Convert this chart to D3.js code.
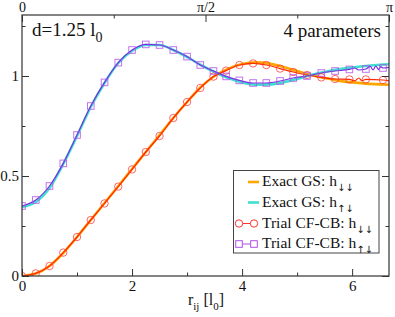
<!DOCTYPE html>
<html>
<head>
<meta charset="utf-8">
<script src="https://d3js.org/d3.v7.min.js"></script>
<style>
  body { margin: 0; background: #fff; }
  svg text { font-family: "Liberation Serif", "DejaVu Serif", serif; fill: #111; }
  .arrow { font-family: "DejaVu Sans", sans-serif; }
</style>
</head>
<body>
<svg id="chart" width="395" height="317"></svg>
<script>
// exact ground state curves
var rExact = [0, 0.25, 0.5, 0.75, 1.0, 1.25, 1.5, 1.75, 2.0, 2.25, 2.5, 2.75, 3.0, 3.25,
    3.5, 3.75, 4.0, 4.25, 4.5, 4.75, 5.0, 5.25, 5.5, 5.75, 6.0, 6.25, 6.5, 6.75];
var exactDD = [0, 0.012, 0.05, 0.115, 0.195, 0.28, 0.365, 0.45, 0.535, 0.62, 0.705, 0.79, 0.87, 0.945,
    1.0, 1.037, 1.06, 1.068, 1.062, 1.045, 1.025, 1.005, 0.99, 0.977, 0.968, 0.962, 0.958, 0.955];
var exactUD = [0.345, 0.37, 0.44, 0.56, 0.70, 0.845, 0.965, 1.065, 1.125, 1.155, 1.155, 1.13, 1.095, 1.055,
    1.02, 0.99, 0.968, 0.957, 0.958, 0.968, 0.985, 1.005, 1.02, 1.033, 1.043, 1.05, 1.056, 1.06];

// trial CF-CB, marker positions
var rTrial = [0, 0.25, 0.5, 0.75, 1.0, 1.25, 1.5, 1.75, 2.0, 2.25, 2.5, 2.75, 3.0, 3.24,
    3.48, 3.71, 3.95, 4.2, 4.44, 4.69, 4.93, 5.18, 5.44, 5.69, 5.95, 6.25, 6.56];
var trialDD = [0, 0.013, 0.05, 0.117, 0.195, 0.28, 0.363, 0.447, 0.533, 0.62, 0.70, 0.79, 0.87, 0.94,
    0.997, 1.027, 1.055, 1.063, 1.055, 1.037, 1.02, 1.005, 0.993, 0.985, 0.983, 0.983, 0.98];
var trialUD = [0.35, 0.38, 0.45, 0.563, 0.705, 0.85, 0.968, 1.067, 1.13, 1.158, 1.155, 1.13, 1.097, 1.055,
    1.025, 0.998, 0.978, 0.965, 0.965, 0.975, 0.99, 1.0, 1.015, 1.025, 1.033, 1.035, 1.04];

// noisy tail of the trial lines between markers
var tailDDr = [6.05, 6.12, 6.18, 6.67];
var tailDD = [0.976, 0.99, 0.977, 0.976];
var tailUDr = [6.05, 6.12, 6.33, 6.38, 6.43, 6.48, 6.52, 6.67];
var tailUD = [1.04, 1.03, 1.048, 1.03, 1.05, 1.032, 1.047, 1.043];

var xTicks = [0, 2, 4, 6];
var xMinor = [1, 3, 5];
var yTicks = [0, 0.5, 1];
var yMinor = [0.25, 0.75, 1.25];
var topTicks = [0, Math.PI / 2, Math.PI];
var topLabels = ["0", "\u03c0/2", "\u03c0"];
var topMinor = [Math.PI / 4, 3 * Math.PI / 4];

var legendItems = [
    {name: "Exact GS: h", sub: "\u2193\u2193", kind: "line", color: "#ffa500"},
    {name: "Exact GS: h", sub: "\u2191\u2193", kind: "line", color: "#40e0d0"},
    {name: "Trial CF-CB: h", sub: "\u2193\u2193", kind: "circle", color: "#ff3333"},
    {name: "Trial CF-CB: h", sub: "\u2191\u2193", kind: "square", color: "#b050e8"}
];

var pLeft = 22, pRight = 389, pTop = 15, pBottom = 276;
var svg = d3.select("#chart");

var x = d3.scaleLinear().domain([0, 6.67]).range([pLeft, pRight]);
var xTop = d3.scaleLinear().domain([0, Math.PI]).range([pLeft, pRight]);
var y = d3.scaleLinear().domain([0, 1.305]).range([pBottom, pTop]);

svg.append("clipPath").attr("id", "clip")
  .append("rect").attr("x", pLeft).attr("y", pTop).attr("width", pRight - pLeft).attr("height", pBottom - pTop);

function zip(rs, vs) { return rs.map(function(r, i) { return [r, vs[i]]; }); }
function merged(rs, vs, tr, tv) {
    return zip(rs, vs).concat(zip(tr, tv)).sort(function(a, b) { return a[0] - b[0]; });
}

var line = d3.line()
    .x(function(d) { return x(d[0]); })
    .y(function(d) { return y(d[1]); })
    .curve(d3.curveMonotoneX);

var plot = svg.append("g").attr("clip-path", "url(#clip)");

plot.append("path").datum(zip(rExact, exactDD))
    .attr("d", line).attr("fill", "none").attr("stroke", "#ffa500").attr("stroke-width", 2.6);
plot.append("path").datum(zip(rExact, exactUD))
    .attr("d", line).attr("fill", "none").attr("stroke", "#40e0d0").attr("stroke-width", 2.6);

plot.append("path").datum(merged(rTrial, trialDD, tailDDr, tailDD))
    .attr("d", line).attr("fill", "none").attr("stroke", "#ff2a00").attr("stroke-width", 1.2);
plot.append("path").datum(merged(rTrial, trialUD, tailUDr, tailUD))
    .attr("d", line).attr("fill", "none").attr("stroke", "#7a2ee0").attr("stroke-width", 1.2);

plot.append("g").selectAll("circle")
    .data(zip(rTrial, trialDD))
  .enter().append("circle")
    .attr("cx", function(d) { return x(d[0]); })
    .attr("cy", function(d) { return y(d[1]); })
    .attr("r", 3.7)
    .attr("fill", "none").attr("stroke", "#ff3333").attr("stroke-width", 1).attr("stroke-opacity", 0.75);

plot.append("g").selectAll("rect")
    .data(zip(rTrial, trialUD))
  .enter().append("rect")
    .attr("x", function(d) { return x(d[0]) - 3.3; })
    .attr("y", function(d) { return y(d[1]) - 3.3; })
    .attr("width", 6.6).attr("height", 6.6)
    .attr("fill", "none").attr("stroke", "#b050e8").attr("stroke-width", 1).attr("stroke-opacity", 0.8);

// axes, ticks pointing inwards
function styleAxis(g) {
    g.select(".domain").remove();
    g.selectAll("line").attr("stroke", "#333");
    g.selectAll("text").attr("font-size", 15).attr("fill", "#111")
        .style("font-family", "'Liberation Serif', serif");
}

svg.append("g").attr("transform", "translate(0," + pBottom + ")")
    .call(d3.axisBottom(x).tickValues(xTicks).tickSize(-7).tickPadding(4).tickFormat(d3.format("d")))
    .call(styleAxis);
svg.append("g").attr("transform", "translate(0," + pBottom + ")")
    .call(d3.axisBottom(x).tickValues(xMinor).tickSize(-3.5).tickFormat(""))
    .call(styleAxis);

svg.append("g").attr("transform", "translate(0," + pTop + ")")
    .call(d3.axisTop(xTop).tickValues(topTicks).tickSize(-7).tickPadding(3)
        .tickFormat(function(d, i) { return topLabels[i]; }))
    .call(styleAxis)
    .call(function(g) { g.selectAll("text").attr("font-size", 14); });
svg.append("g").attr("transform", "translate(0," + pTop + ")")
    .call(d3.axisTop(xTop).tickValues(topMinor).tickSize(-3.5).tickFormat(""))
    .call(styleAxis);

svg.append("g").attr("transform", "translate(" + pLeft + ",0)")
    .call(d3.axisLeft(y).tickValues(yTicks).tickSize(-7).tickPadding(3)
        .tickFormat(function(d) { return d === 0 ? "0" : d === 1 ? "1" : "0.5"; }))
    .call(styleAxis);
svg.append("g").attr("transform", "translate(" + pLeft + ",0)")
    .call(d3.axisLeft(y).tickValues(yMinor).tickSize(-3.5).tickFormat(""))
    .call(styleAxis);

svg.append("g").attr("transform", "translate(" + pRight + ",0)")
    .call(d3.axisRight(y).tickValues(yTicks).tickSize(-7).tickFormat(""))
    .call(styleAxis);
svg.append("g").attr("transform", "translate(" + pRight + ",0)")
    .call(d3.axisRight(y).tickValues(yMinor).tickSize(-3.5).tickFormat(""))
    .call(styleAxis);

svg.append("rect")
    .attr("x", pLeft).attr("y", pTop).attr("width", pRight - pLeft).attr("height", pBottom - pTop)
    .attr("fill", "none").attr("stroke", "#333").attr("stroke-width", 1.2);

// x label
var xl = svg.append("text").attr("x", 206).attr("y", 305).attr("text-anchor", "middle").attr("font-size", 16);
xl.append("tspan").text("r");
xl.append("tspan").attr("dy", 5).attr("font-size", 11).text("ij");
xl.append("tspan").attr("dy", -5).text(" [l");
xl.append("tspan").attr("dy", 5).attr("font-size", 11).text("0");
xl.append("tspan").attr("dy", -5).text("]");

// annotations
var ann = svg.append("text").attr("x", 32).attr("y", 36).attr("font-size", 19);
ann.append("tspan").text("d=1.25 l");
ann.append("tspan").attr("dy", 6).attr("font-size", 14).text("0");

svg.append("text").attr("x", 381).attr("y", 37).attr("text-anchor", "end")
    .attr("font-size", 19).text("4 parameters");

// legend
var lg = svg.append("g");
lg.append("rect").attr("x", 233.5).attr("y", 170.5).attr("width", 145.5).attr("height", 82.5)
    .attr("fill", "#fff").attr("stroke", "#444").attr("stroke-width", 1);

var rowY = [186, 206.5, 227.5, 248];
legendItems.forEach(function(it, i) {
    var yy = rowY[i] - 4;
    if (it.kind === "line") {
        lg.append("line").attr("x1", 248).attr("x2", 259).attr("y1", yy).attr("y2", yy)
            .attr("stroke", it.color).attr("stroke-width", 2.6);
    } else {
        lg.append("line").attr("x1", 239).attr("x2", 254).attr("y1", yy).attr("y2", yy)
            .attr("stroke", it.color).attr("stroke-width", 1);
        [239, 254].forEach(function(cx) {
            if (it.kind === "circle") {
                lg.append("circle").attr("cx", cx).attr("cy", yy).attr("r", 3.7)
                    .attr("fill", "#fff").attr("stroke", it.color).attr("stroke-width", 1);
            } else {
                lg.append("rect").attr("x", cx - 3.3).attr("y", yy - 3.3).attr("width", 6.6).attr("height", 6.6)
                    .attr("fill", "#fff").attr("stroke", it.color).attr("stroke-width", 1);
            }
        });
    }
    var t = lg.append("text").attr("x", 262).attr("y", rowY[i]).attr("font-size", 15.5);
    t.append("tspan").text(it.name);
    t.append("tspan").attr("class", "arrow").attr("dy", 5).attr("font-size", 10).text(it.sub);
});
</script>
</body>
</html>
